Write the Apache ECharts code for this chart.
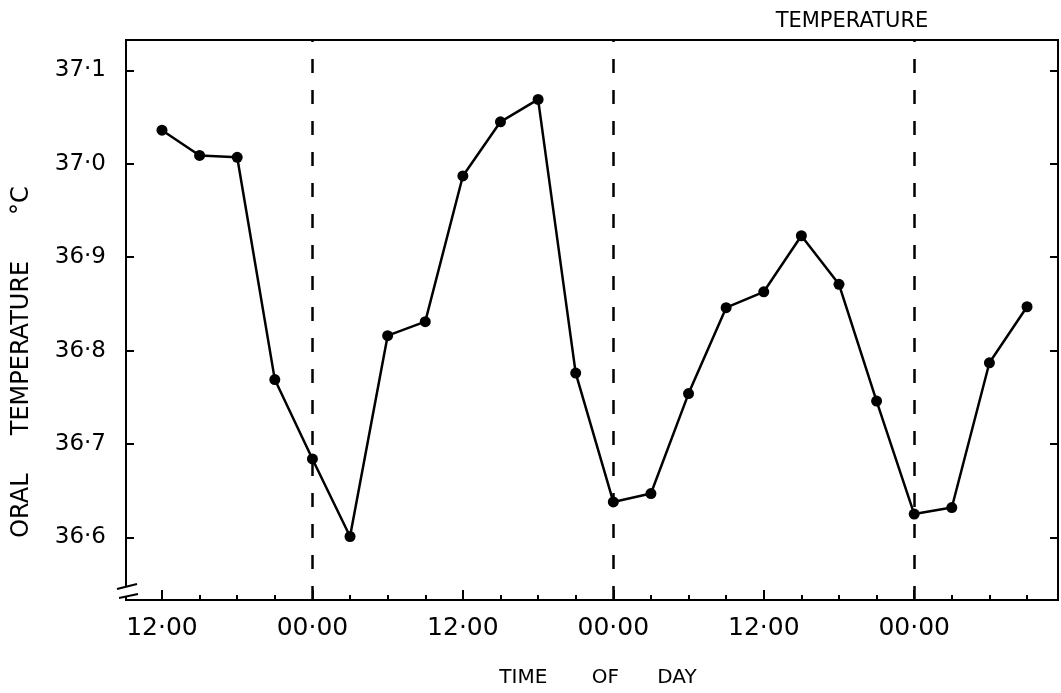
<!DOCTYPE html>
<html>
<head>
<meta charset="utf-8">
<script src="https://cdn.jsdelivr.net/npm/echarts@6/dist/echarts.min.js"></script>
<style>html,body{margin:0;padding:0;background:#fff}#c{width:1061px;height:693px}</style>
</head>
<body>
<div id="c"></div>
<script>
// hours after the first 12:00 reading
var hours = [0, 3, 6, 9, 12, 15, 18, 21, 24, 27, 30, 33, 36, 39, 42, 45, 48, 51, 54, 57, 60, 63, 66, 69];
var temps = [37.036, 37.009, 37.007, 36.769, 36.684, 36.601, 36.816, 36.831, 36.987, 37.045, 37.069, 36.776,
             36.638, 36.647, 36.754, 36.846, 36.863, 36.923, 36.871, 36.746, 36.625, 36.632, 36.787, 36.847];
var midnightHours = [12, 36, 60];
var tickHours = [0, 3, 6, 9, 12, 15, 18, 21, 24, 27, 30, 33, 36, 39, 42, 45, 48, 51, 54, 57, 60, 63, 66, 69];
var majorTickHours = [0, 12, 24, 36, 48, 60];
var xTickLabels = ['12·00', '00·00', '12·00', '00·00', '12·00', '00·00'];
var yTickValues = [36.6, 36.7, 36.8, 36.9, 37.0, 37.1];
var yTickLabels = ['36·6', '36·7', '36·8', '36·9', '37·0', '37·1'];

var FONT = 'DejaVu Sans';
var chart = echarts.init(document.getElementById('c'), null, {renderer: 'canvas'});
var pts = hours.map(function (h, i) { return [h, temps[i]]; });

function xLabel(v) {
  var i = majorTickHours.indexOf(Math.round(v));
  return i >= 0 ? xTickLabels[i] : '';
}
function yLabel(v) {
  for (var i = 0; i < yTickValues.length; i++) if (Math.abs(yTickValues[i] - v) < 1e-6) return yTickLabels[i];
  return '';
}

var XMIN = -2.87, XMAX = 71.47, YMIN = 36.533, YMAX = 37.1326;

chart.setOption({
  animation: false,
  backgroundColor: '#fff',
  textStyle: {fontFamily: FONT, color: '#000'},
  grid: {left: 126, right: 3, top: 40, bottom: 89, show: true, borderColor: '#000', borderWidth: 2, backgroundColor: 'transparent'},
  xAxis: [{
    type: 'value', min: XMIN, max: XMAX, position: 'bottom',
    axisLine: {show: true, onZero: false, lineStyle: {color: '#000', width: 2}},
    axisTick: {show: true, inside: true, length: 5, customValues: tickHours, lineStyle: {color: '#000', width: 2}},
    axisLabel: {show: true, customValues: majorTickHours, formatter: xLabel, fontFamily: FONT, fontSize: 25, color: '#000', margin: 16},
    splitLine: {show: false},
    name: 'TIME       OF      DAY', nameLocation: 'middle', nameGap: 68,
    nameTextStyle: {fontFamily: FONT, fontSize: 20, color: '#000', padding: [0, 0, 0, 12]}
  }, {
    type: 'value', min: XMIN, max: XMAX, position: 'bottom',
    axisLine: {show: false, onZero: false},
    axisTick: {show: true, inside: true, length: 10, customValues: majorTickHours, lineStyle: {color: '#000', width: 2}},
    axisLabel: {show: false},
    splitLine: {show: false}
  }],
  yAxis: [{
    type: 'value', min: YMIN, max: YMAX, position: 'left',
    axisLine: {show: true, onZero: false, lineStyle: {color: '#000', width: 2}},
    axisTick: {show: true, inside: true, length: 8, customValues: yTickValues, lineStyle: {color: '#000', width: 2}},
    axisLabel: {show: true, customValues: yTickValues, formatter: yLabel, fontFamily: FONT, fontSize: 23, color: '#000', margin: 20},
    splitLine: {show: false},
    name: 'ORAL     TEMPERATURE      °C', nameLocation: 'middle', nameGap: 92, nameRotate: 90,
    nameTextStyle: {fontFamily: FONT, fontSize: 24, color: '#000', padding: [0, 84, 0, 0]}
  }, {
    type: 'value', min: YMIN, max: YMAX, position: 'right',
    axisLine: {show: true, onZero: false, lineStyle: {color: '#000', width: 2}},
    axisTick: {show: true, inside: true, length: 8, customValues: yTickValues, lineStyle: {color: '#000', width: 2}},
    axisLabel: {show: false},
    splitLine: {show: false}
  }],
  graphic: [
    {type: 'text', x: 852, y: 22, style: {text: 'TEMPERATURE', font: '21px "DejaVu Sans"', fill: '#000', align: 'center', verticalAlign: 'middle'}, z: 100},
    {type: 'rect', shape: {x: 119, y: 586, width: 14, height: 10}, style: {fill: '#fff'}, z: 100},
    {type: 'line', shape: {x1: 117, y1: 589, x2: 137, y2: 584}, style: {stroke: '#000', lineWidth: 2}, z: 101},
    {type: 'line', shape: {x1: 119, y1: 598, x2: 138, y2: 594}, style: {stroke: '#000', lineWidth: 2}, z: 101}
  ],
  series: [{
    type: 'line', xAxisIndex: 0, yAxisIndex: 0, data: pts,
    symbol: 'circle', symbolSize: 11, showSymbol: true,
    lineStyle: {color: '#000', width: 2.5}, itemStyle: {color: '#000'},
    markLine: {
      silent: true, symbol: ['none', 'none'], label: {show: false},
      lineStyle: {color: '#000', width: 2.5, type: [14, 17]},
      data: midnightHours.map(function (h) { return {xAxis: h}; })
    }
  }]
});
</script>
</body>
</html>
